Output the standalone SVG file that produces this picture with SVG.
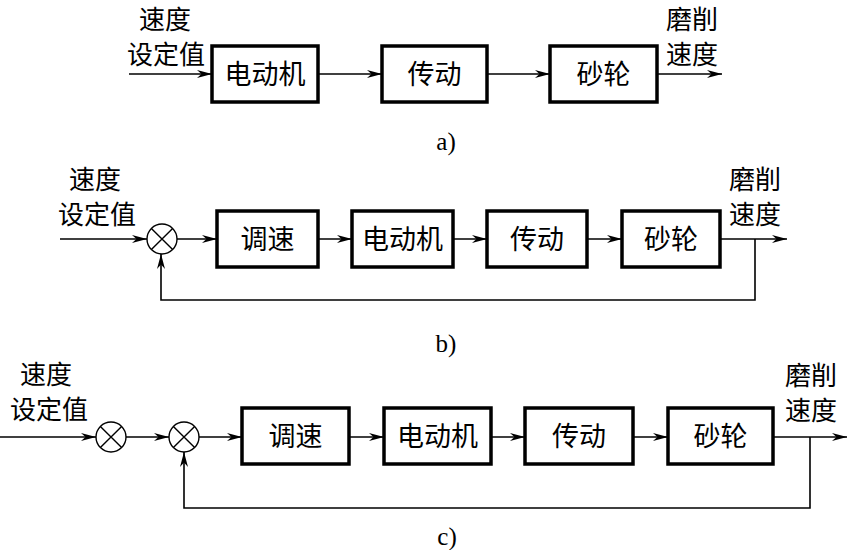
<svg xmlns="http://www.w3.org/2000/svg" width="848" height="550" viewBox="0 0 848 550">
<defs>
<style>
.box{fill:#fff;stroke:#000;stroke-width:3.5}
.sum{fill:#fff;stroke:#000;stroke-width:1.4}
.x{stroke:#000;stroke-width:1.4}
.ln{fill:none;stroke:#000;stroke-width:1.6;marker-end:url(#arr)}
.tb{font-family:"Noto Sans CJK SC","Noto Sans",sans-serif;font-size:27px;fill:#000;text-anchor:middle}
.tl{font-family:"Noto Sans CJK SC","Noto Sans",sans-serif;font-size:26px;fill:#000;text-anchor:middle}
.lab{font-family:"Liberation Serif",serif;font-size:25px;fill:#000;text-anchor:middle}
</style>
<marker id="arr" markerUnits="userSpaceOnUse" markerWidth="16" markerHeight="10" refX="15" refY="4" orient="auto">
<path d="M0,0 L15,4 L0,8 L4.5,4 Z" fill="#000"/>
</marker>
</defs>

<g id="connectors">
<path class="ln" d="M129,74 H212"/>
<path class="ln" d="M318,74 H382"/>
<path class="ln" d="M487,74 H550"/>
<path class="ln" d="M657,74 H722"/>
<path class="ln" d="M60,239 H147"/>
<path class="ln" d="M177,239 H217"/>
<path class="ln" d="M318,239 H352"/>
<path class="ln" d="M453,239 H487"/>
<path class="ln" d="M587,239 H622"/>
<path class="ln" d="M720,239 H787"/>
<path class="ln" d="M755,239 V300 H161 V254"/>
<path class="ln" d="M0,437 H96"/>
<path class="ln" d="M126,437 H169"/>
<path class="ln" d="M199,437 H242"/>
<path class="ln" d="M349,437 H384"/>
<path class="ln" d="M491,437 H525"/>
<path class="ln" d="M633,437 H668"/>
<path class="ln" d="M773,437 H847"/>
<path class="ln" d="M810,437 V508 H184 V452"/>
</g>

<g id="a-in"><text class="tl" x="165" y="29">速度</text><text class="tl" x="166" y="64">设定值</text></g>
<g id="a-motor"><rect class="box" x="212" y="46" width="106" height="56"/><text class="tb" x="265" y="84">电动机</text></g>
<g id="a-trans"><rect class="box" x="382" y="46" width="105" height="56"/><text class="tb" x="434.5" y="84">传动</text></g>
<g id="a-wheel"><rect class="box" x="550" y="46" width="107" height="56"/><text class="tb" x="603.5" y="84">砂轮</text></g>
<g id="a-out"><text class="tl" x="692" y="29">磨削</text><text class="tl" x="692" y="64">速度</text></g>
<text class="lab" x="446" y="150">a)</text>

<g id="b-in"><text class="tl" x="95" y="189">速度</text><text class="tl" x="97" y="224">设定值</text></g>
<g id="b-sum"><circle class="sum" cx="162" cy="239" r="15"/><path class="x" d="M151.4,228.4 L172.6,249.6 M172.6,228.4 L151.4,249.6"/></g>
<g id="b-reg"><rect class="box" x="217" y="211" width="101" height="56"/><text class="tb" x="267.5" y="249">调速</text></g>
<g id="b-motor"><rect class="box" x="352" y="211" width="101" height="56"/><text class="tb" x="402.5" y="249">电动机</text></g>
<g id="b-trans"><rect class="box" x="487" y="211" width="100" height="56"/><text class="tb" x="537" y="249">传动</text></g>
<g id="b-wheel"><rect class="box" x="622" y="211" width="98" height="56"/><text class="tb" x="671" y="249">砂轮</text></g>
<g id="b-out"><text class="tl" x="755" y="189">磨削</text><text class="tl" x="755" y="224">速度</text></g>
<text class="lab" x="446" y="352">b)</text>

<g id="c-in"><text class="tl" x="46" y="384">速度</text><text class="tl" x="49" y="419">设定值</text></g>
<g id="c-sum1"><circle class="sum" cx="111" cy="437" r="15"/><path class="x" d="M100.4,426.4 L121.6,447.6 M121.6,426.4 L100.4,447.6"/></g>
<g id="c-sum2"><circle class="sum" cx="184" cy="437" r="15"/><path class="x" d="M173.4,426.4 L194.6,447.6 M194.6,426.4 L173.4,447.6"/></g>
<g id="c-reg"><rect class="box" x="242" y="408" width="107" height="56"/><text class="tb" x="295.5" y="446">调速</text></g>
<g id="c-motor"><rect class="box" x="384" y="408" width="107" height="56"/><text class="tb" x="437.5" y="446">电动机</text></g>
<g id="c-trans"><rect class="box" x="525" y="408" width="108" height="56"/><text class="tb" x="579" y="446">传动</text></g>
<g id="c-wheel"><rect class="box" x="668" y="408" width="105" height="56"/><text class="tb" x="720.5" y="446">砂轮</text></g>
<g id="c-out"><text class="tl" x="811" y="385">磨削</text><text class="tl" x="811" y="420">速度</text></g>
<text class="lab" x="447" y="545">c)</text>
</svg>
